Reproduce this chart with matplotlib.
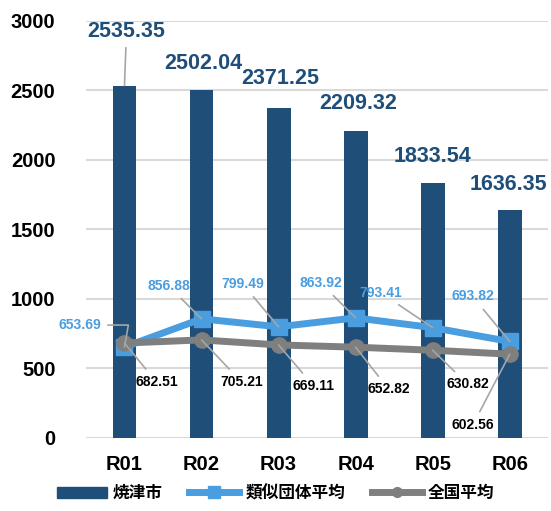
import matplotlib.pyplot as plt
from matplotlib.patches import Patch
from matplotlib.lines import Line2D

plt.rcParams['font.family'] = ['Liberation Sans', 'Noto Sans CJK JP', 'DejaVu Sans']
plt.rcParams['font.weight'] = 'bold'

# datos
anios = ['R01', 'R02', 'R03', 'R04', 'R05', 'R06']
yaizu = [2535.35, 2502.04, 2371.25, 2209.32, 1833.54, 1636.35]
ruiji = [653.69, 856.88, 799.49, 863.92, 793.41, 693.82]
zenkoku = [682.51, 705.21, 669.11, 652.82, 630.82, 602.56]

# desplazamientos de las etiquetas (pixeles)
off_bar = [(2, 54), (2, 27), (2, 30), (3, 27), (0, 27), (-1, 26)]
off_ruiji = [(-45, 22), (-33, 33), (-36, 43), (-35, 35), (-52, 35), (-37, 45)]
off_zen = [(32, -39), (40, -42), (35, -41), (33, -42), (35, -34), (-37, -71)]

c_bar = '#1F4E79'
c_ruiji = '#4A9DDF'
c_zen = '#7F7F7F'
c_lead = '#A6A6A6'

fig = plt.figure(figsize=(5.51, 5.11), dpi=100)
ax = fig.add_axes([0.156, 0.143, 0.839, 0.816])

x = list(range(len(anios)))
ax.bar(x, yaizu, width=0.31, color=c_bar, zorder=2)
ax.plot(x, ruiji, color=c_ruiji, lw=5, marker='s', ms=12, zorder=3)
ax.plot(x, zenkoku, color=c_zen, lw=5, marker='o', ms=11, zorder=4)

for i in x:
    ap = dict(arrowstyle='-', color=c_lead, lw=1.2, shrinkA=2, shrinkB=0) if i == 0 else None
    ax.annotate(f'{yaizu[i]:.2f}', (i, yaizu[i]), xytext=off_bar[i], textcoords='offset pixels',
                ha='center', va='center', fontsize=15.5, color=c_bar, fontweight='bold',
                arrowprops=ap, zorder=5)
    if i == 0:
        ap2 = dict(arrowstyle='-', color=c_lead, lw=1.2, shrinkA=3, shrinkB=0,
                   relpos=(1, 0.5), connectionstyle='angle,angleA=0,angleB=80,rad=0')
    else:
        ap2 = dict(arrowstyle='-', color=c_lead, lw=1.2, shrinkA=3, shrinkB=0)
    ax.annotate(f'{ruiji[i]:.2f}', (i, ruiji[i]), xytext=off_ruiji[i], textcoords='offset pixels',
                ha='center', va='center', fontsize=10, color=c_ruiji, fontweight='bold',
                arrowprops=ap2, zorder=5)
    ax.annotate(f'{zenkoku[i]:.2f}', (i, zenkoku[i]), xytext=off_zen[i], textcoords='offset pixels',
                ha='center', va='center', fontsize=10, color='black', fontweight='bold',
                arrowprops=dict(arrowstyle='-', color=c_lead, lw=1.2, shrinkA=3, shrinkB=0), zorder=5)

ax.set_xlim(-0.5, 5.5)
ax.set_ylim(0, 3000)
ax.set_yticks(range(0, 3001, 500))
ax.set_xticks(x)
ax.set_xticklabels(anios)
ax.tick_params(axis='both', length=0, labelsize=14.5)
ax.tick_params(axis='x', pad=12)
ax.tick_params(axis='y', pad=22)
ax.grid(axis='y', color='#D9D9D9', lw=1.5, zorder=0)
ax.set_axisbelow(True)
for s in ax.spines.values():
    s.set_visible(False)

handles = [Patch(color=c_bar),
           Line2D([], [], color=c_ruiji, lw=5, marker='s', ms=8),
           Line2D([], [], color=c_zen, lw=5, marker='o', ms=7)]
fig.legend(handles, ['焼津市', '類似団体平均', '全国平均'], loc='center', bbox_to_anchor=(0.5, 0.035),
           ncol=3, frameon=False, fontsize=12, handlelength=3.0, handleheight=0.7, columnspacing=1.6,
           handletextpad=0.35)

fig.savefig('out.png', dpi=100)
